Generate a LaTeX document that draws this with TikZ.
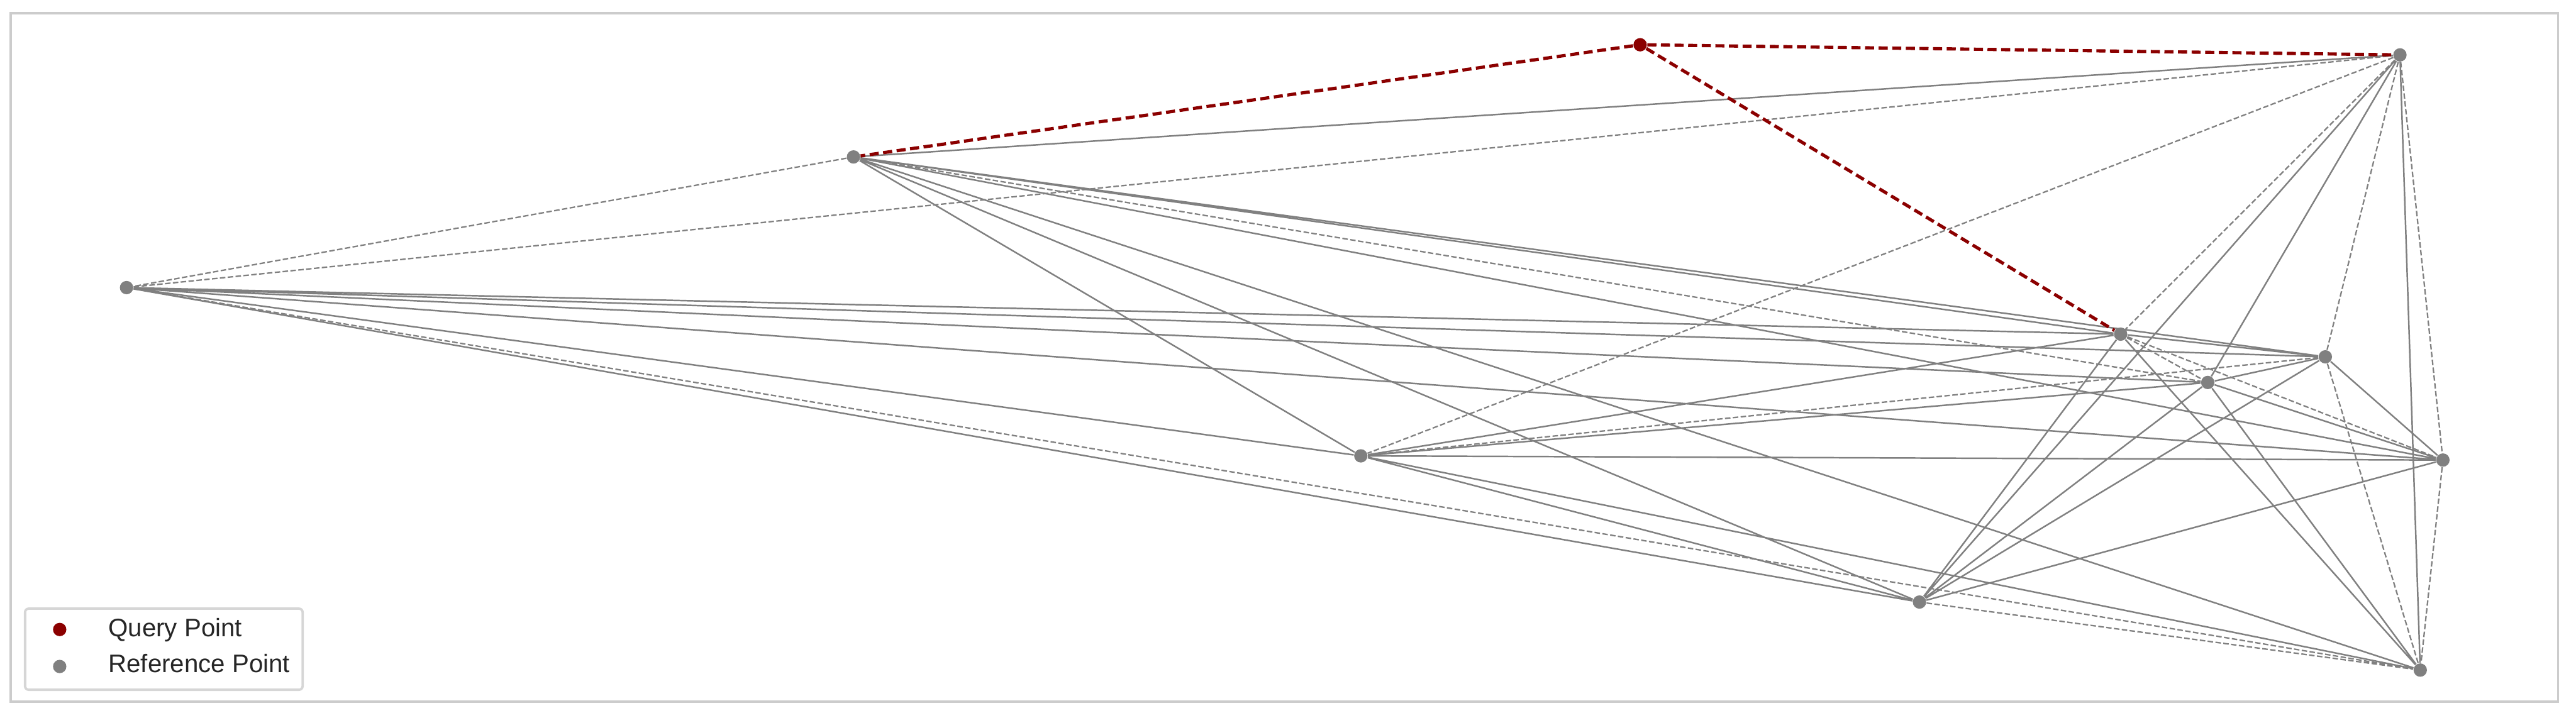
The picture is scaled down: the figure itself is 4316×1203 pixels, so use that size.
\documentclass[tikz,border=0pt]{standalone}
\usepackage{fontspec}
\setmainfont{Liberation Sans}
\definecolor{refgray}{HTML}{808080}
\definecolor{qred}{HTML}{8B0000}
\definecolor{framegray}{HTML}{CCCCCC}
\definecolor{legendgray}{HTML}{D6D6D6}
\begin{document}
\begin{tikzpicture}[x=0.25pt,y=-0.25pt,
  refpt/.style={circle,fill=refgray,inner sep=0pt,minimum size=5.6pt},
  qpt/.style={circle,fill=qred,inner sep=0pt,minimum size=5.6pt},
  solidedge/.style={draw=refgray,line width=0.65pt},
  dashededge/.style={draw=refgray,line width=0.6pt,dash pattern=on 2.3pt off 1pt},
  qedge/.style={draw=qred,line width=1.35pt,dash pattern=on 3.8pt off 1.9pt},
  legtext/.style={anchor=base west,inner sep=0pt,font=\fontsize{10.6}{12}\selectfont,text=black!85},
  legbox/.style={draw=legendgray,line width=1pt,rounded corners=1.5pt,fill=white,inner sep=0pt}]
\useasboundingbox (0,0) rectangle (4316,1203);
\draw[framegray,line width=1pt] (18,22) rectangle (4286,1176);
% points
\node[refpt] (A) at (1430,263) {};
\node[refpt] (B) at (212,482) {};
\node[refpt] (C) at (4021,92) {};
\node[refpt] (D) at (3553,560) {};
\node[refpt] (E) at (3896,598) {};
\node[refpt] (F) at (3699,641) {};
\node[refpt] (G) at (2280,764) {};
\node[refpt] (H) at (4093,771) {};
\node[refpt] (I) at (3216,1009) {};
\node[refpt] (J) at (4055,1123) {};
\node[qpt] (Q) at (2748,75) {};
% solid edges
\path[solidedge] (A) -- (C) (A) -- (D) (A) -- (E) (A) -- (G) (A) -- (H) (A) -- (I) (A) -- (J)
  (B) -- (D) (B) -- (E) (B) -- (F) (B) -- (G) (B) -- (H) (B) -- (I)
  (C) -- (F) (C) -- (I) (C) -- (J)
  (D) -- (E) (D) -- (G) (D) -- (I) (D) -- (J)
  (E) -- (F) (E) -- (H) (E) -- (I)
  (F) -- (G) (F) -- (H) (F) -- (I) (F) -- (J)
  (G) -- (H) (G) -- (I) (G) -- (J)
  (H) -- (I);
% dashed edges
\path[dashededge] (A) -- (B) (B) -- (C) (A) -- (F) (B) -- (J)
  (C) -- (D) (C) -- (E) (C) -- (G) (C) -- (H)
  (D) -- (F) (D) -- (H) (E) -- (G) (E) -- (J) (H) -- (J) (I) -- (J);
% query edges
\path[qedge] (Q) -- (A) (Q) -- (C) (Q) -- (D);
% legend
\node[legbox,minimum width=116.25pt,minimum height=34pt,anchor=north west] (leg) at (40,1018) {};
\node[qpt] (lq) at (100,1055) {};
\node[refpt] (lr) at (100,1117) {};
\node[legtext] (tq) at (181,1067) {Query Point};
\node[legtext] (tr) at (181,1127) {Reference Point};
\end{tikzpicture}
\end{document}
